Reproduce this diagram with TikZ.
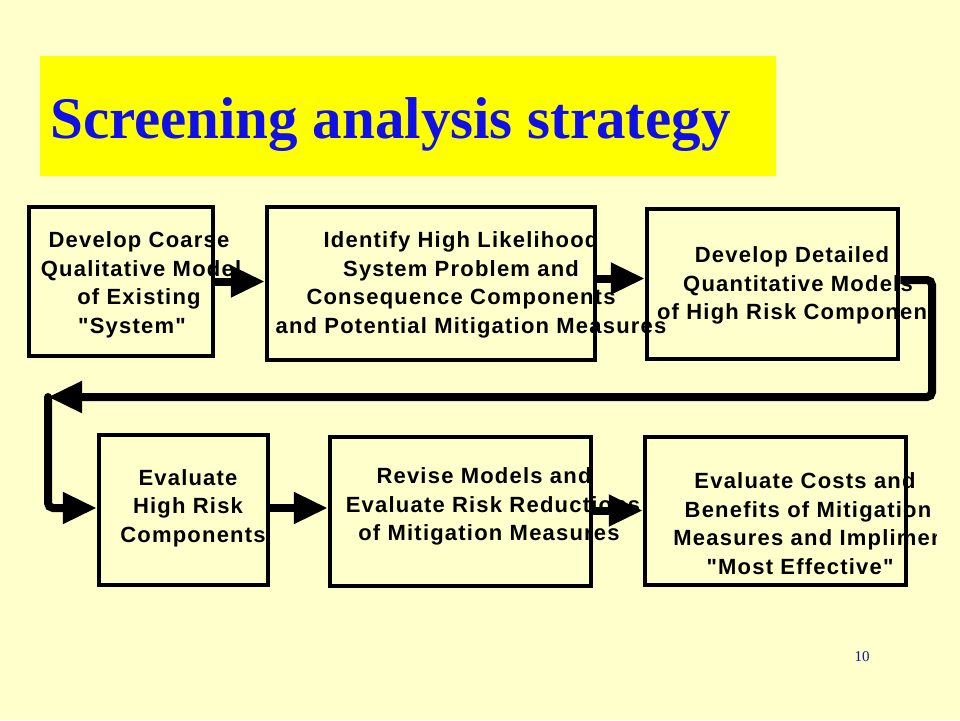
\documentclass[tikz,border=0pt]{standalone}
\usepackage{fontspec}
\setmainfont{Liberation Serif}
\newfontfamily\arialfont[LetterSpace=5.5]{Liberation Sans}
\usetikzlibrary{arrows.meta}
\definecolor{bgyellow}{RGB}{255,255,204}
\definecolor{titleyellow}{RGB}{255,255,0}
\definecolor{titleblue}{RGB}{16,16,230}
\definecolor{numblue}{RGB}{20,20,140}
\tikzset{
  stepbox/.style={draw=black, line width=4.5pt, rectangle, inner sep=0pt},
  boxtext/.style={inner sep=0pt, align=center, font=\arialfont\bfseries\fontsize{22}{28.5}\selectfont},
  flowarrow/.style={line width=8pt, -{Triangle[length=34pt,width=30pt]}},
  loopline/.style={line width=8pt, rounded corners=5pt}
}
\begin{document}
\begin{tikzpicture}[x=1pt,y=-1pt]
\fill[bgyellow] (0,0) rectangle (960,720);
\useasboundingbox (0,0) rectangle (960,720);
% title
\fill[titleyellow] (40,56) rectangle (776,176);
\node[anchor=base west, inner sep=0pt, text=titleblue, font=\bfseries\fontsize{59}{60}\selectfont] (title) at (50,138) {Screening analysis strategy};
% texts
\node[boxtext] (t1) at (139,285) {Develop Coarse\\\hspace*{4pt}Qualitative Model\\of Existing\\"System"\hspace*{14pt}};
\node[boxtext] (t2) at (461,285) {Identify High Likelihood\\System Problem and\hspace*{16pt}\\Consequence Components\\\hspace*{20pt}and Potential Mitigation Measures};
\begin{scope}
\clip (0,0) rectangle (936,720);
\node[boxtext] (t3) at (792,285.5) {Develop Detailed\\\hspace*{12pt}Quantitative Models\\of High Risk Componen};
\node[boxtext] (t6) at (805,523.5) {Evaluate Costs and\\\hspace*{6pt}Benefits of Mitigation\\\hspace*{8pt}Measures and Implimen\\"Most Effective"\hspace*{10pt}};
\end{scope}
\node[boxtext] (t4) at (188,508) {Evaluate\\High Risk\\\hspace*{10pt}Components};
\node[boxtext] (t5) at (489,506.5) {Revise Models and\hspace*{10pt}\\\hspace*{8pt}Evaluate Risk Reductions\\of Mitigation Measures};
% boxes
\node[stepbox, minimum width=184pt, minimum height=149pt] (b1) at (121,281.5) {};
\node[stepbox, minimum width=328pt, minimum height=153pt] (b2) at (431,283.5) {};
\node[stepbox, minimum width=251pt, minimum height=150pt] (b3) at (772.5,284) {};
\node[stepbox, minimum width=169pt, minimum height=150pt] (b4) at (183.5,510) {};
\node[stepbox, minimum width=261pt, minimum height=149pt] (b5) at (460.5,511.5) {};
\node[stepbox, minimum width=261pt, minimum height=148pt] (b6) at (775.5,511) {};
% connectors
\coordinate (rc) at (932,397);
\coordinate (lc) at (48,397);
\draw[flowarrow] (b1.east) -- (b1.east -| b2.west);
\draw[flowarrow] ([yshift=5pt]b2.east) -- ([yshift=5pt]b2.east -| b3.west);
\draw[loopline] ([yshift=4pt]b3.east) -| (rc) -- ([xshift=20pt]lc);
\draw[flowarrow] ([xshift=21pt]lc) -- (lc);
\draw[loopline, line cap=round, -{Triangle[length=34pt,width=30pt]}] (lc) |- ([yshift=2pt]b4.west);
\draw[flowarrow] ([yshift=2pt]b4.east) -- ([yshift=2pt]b4.east -| b5.west);
\draw[flowarrow] ([yshift=1pt]b5.east) -- ([yshift=1pt]b5.east -| b6.west);
% page number
\node[text=numblue, inner sep=0pt, font=\fontsize{15}{17}\selectfont] (pnum) at (862,657) {10};
\end{tikzpicture}
\end{document}
